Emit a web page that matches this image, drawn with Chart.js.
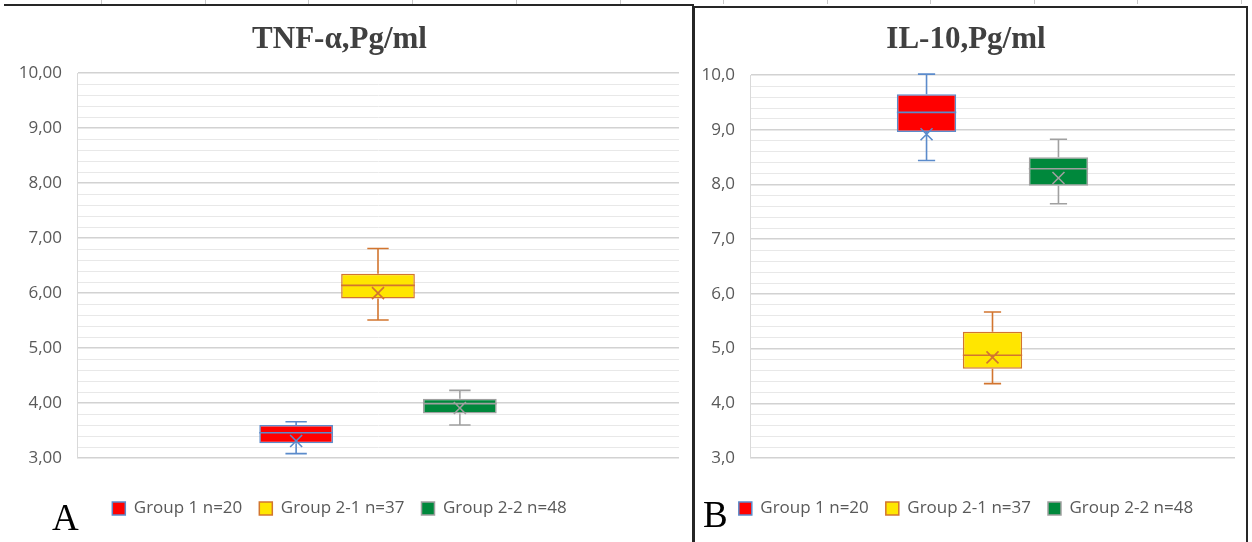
<!DOCTYPE html>
<html>
<head>
<meta charset="utf-8">
<script src="https://cdn.jsdelivr.net/npm/chart.js@4.4.1/dist/chart.umd.min.js"></script>
<style>
  html, body { margin: 0; padding: 0; background: #fff; }
  body { width: 1252px; height: 542px; position: relative; overflow: hidden; }
  .frame { position: absolute; box-sizing: border-box; border: 0 solid #262626; }
  #frameA { left: 4px; top: 4px; width: 690px; height: 560px; border-top-width: 2px; border-right-width: 2px; }
  #frameB { left: 693px; top: 6px; width: 555px; height: 560px; border-top-width: 2px; border-left-width: 2px; border-right-width: 2px; }
  .cell { position: absolute; top: 0; width: 1px; height: 4px; background: #c8c8c8; }
  canvas { position: absolute; top: 0; }
  #chartA { left: 0; }
  #chartB { left: 697px; }
  .letter { position: absolute; font-family: 'Liberation Serif', serif; font-size: 37px; line-height: 1; color: #000; }
</style>
</head>
<body>
<div class="frame" id="frameA"></div>
<div class="frame" id="frameB"></div>
<div class="cell" style="left:101px"></div>
<div class="cell" style="left:205px"></div>
<div class="cell" style="left:308px"></div>
<div class="cell" style="left:412px"></div>
<div class="cell" style="left:516px"></div>
<div class="cell" style="left:620px"></div>
<div class="cell" style="left:723px"></div>
<div class="cell" style="left:827px"></div>
<div class="cell" style="left:930px"></div>
<div class="cell" style="left:1034px"></div>
<div class="cell" style="left:1137px"></div>
<div class="cell" style="left:1241px"></div>

<canvas id="chartA" width="692" height="542"></canvas>
<canvas id="chartB" width="548" height="542"></canvas>

<div class="letter" style="left:52px; top:499px;">A</div>
<div class="letter" style="left:703px; top:496px;">B</div>

<script>
// groups (legend)
const groups = ['Group 1 n=20', 'Group 2-1 n=37', 'Group 2-2 n=48'];
const fills = ['#FF0000', '#FFE600', '#00883C'];
const edges = ['#5B8BCB', '#D2752F', '#A0A0A0'];

// TNF-α, pg/ml
const tnfMin = [3.08, 5.51, 3.60];
const tnfQ1 = [3.27, 5.90, 3.81];
const tnfMedian = [3.46, 6.14, 3.99];
const tnfQ3 = [3.60, 6.35, 4.08];
const tnfMax = [3.66, 6.81, 4.23];
const tnfMean = [3.31, 6.00, 3.91];
const tnfTicks = [3, 4, 5, 6, 7, 8, 9, 10];
const tnfTickLabels = ['3,00', '4,00', '5,00', '6,00', '7,00', '8,00', '9,00', '10,00'];

// IL-10, pg/ml
const ilMin = [8.44, 4.36, 7.65];
const ilQ1 = [8.96, 4.63, 7.98];
const ilMedian = [9.32, 4.88, 8.29];
const ilQ3 = [9.65, 5.31, 8.50];
const ilMax = [10.02, 5.67, 8.83];
const ilMean = [8.92, 4.84, 8.12];
const ilTicks = [3, 4, 5, 6, 7, 8, 9, 10];
const ilTickLabels = ['3,0', '4,0', '5,0', '6,0', '7,0', '8,0', '9,0', '10,0'];

// whiskers, median and mean cross on top of the floating bars
const boxExtras = {
    id: 'boxExtras',
    afterDatasetsDraw(chart) {
        const ctx = chart.ctx;
        const y = chart.scales.y;
        chart.data.datasets.forEach((ds, i) => {
            const bar = chart.getDatasetMeta(i).data[0];
            const { x, width } = bar.getProps(['x', 'width'], true);
            const s = ds.stat;
            const cap = width * 0.145;
            const yQ1 = y.getPixelForValue(ds.data[0][0]);
            const yQ3 = y.getPixelForValue(ds.data[0][1]);
            const yMin = y.getPixelForValue(s.min);
            const yMax = y.getPixelForValue(s.max);
            const yMed = y.getPixelForValue(s.median);
            const yMean = y.getPixelForValue(s.mean);
            const r = 6;
            ctx.save();
            ctx.strokeStyle = ds.borderColor;
            ctx.lineWidth = 1.6;
            ctx.beginPath();
            ctx.moveTo(x, yQ3); ctx.lineTo(x, yMax);
            ctx.moveTo(x - cap, yMax); ctx.lineTo(x + cap, yMax);
            ctx.moveTo(x, yQ1); ctx.lineTo(x, yMin);
            ctx.moveTo(x - cap, yMin); ctx.lineTo(x + cap, yMin);
            ctx.moveTo(x - width / 2, yMed); ctx.lineTo(x + width / 2, yMed);
            ctx.moveTo(x - r, yMean - r); ctx.lineTo(x + r, yMean + r);
            ctx.moveTo(x + r, yMean - r); ctx.lineTo(x - r, yMean + r);
            ctx.stroke();
            ctx.restore();
        });
    }
};

function tickIndex(values, v) {
    return values.findIndex(t => Math.abs(t - v) < 1e-6);
}

function createChart(id, cfg) {
    return new Chart(document.getElementById(id), {
        type: 'bar',
        data: {
            labels: [''],
            datasets: groups.map((g, i) => ({
                label: g,
                data: [[cfg.q1[i], cfg.q3[i]]],
                backgroundColor: fills[i],
                borderColor: edges[i],
                borderWidth: 1.5,
                borderSkipped: false,
                stat: { min: cfg.min[i], median: cfg.median[i], max: cfg.max[i], mean: cfg.mean[i] }
            }))
        },
        options: {
            responsive: false,
            animation: false,
            layout: { padding: { left: 0, right: cfg.padRight, top: 0, bottom: 15 } },
            datasets: { bar: { categoryPercentage: 0.408, barPercentage: 0.9 } },
            scales: {
                x: {
                    grid: { display: false },
                    border: { display: false },
                    ticks: { display: false },
                    afterFit: s => { s.height = 25; }
                },
                y: {
                    min: 3,
                    max: 10,
                    ticks: {
                        stepSize: 0.2,
                        autoSkip: false,
                        padding: 15,
                        color: '#595959',
                        font: { family: 'Open Sans', size: 17 },
                        callback: v => {
                            const k = tickIndex(cfg.ticks, v);
                            return k >= 0 ? cfg.tickLabels[k] : '';
                        }
                    },
                    grid: {
                        drawTicks: false,
                        color: c => tickIndex(cfg.ticks, c.tick.value) >= 0 ? '#D2D2D2' : '#E8E8E8',
                        lineWidth: c => tickIndex(cfg.ticks, c.tick.value) >= 0 ? 1.6 : 1
                    },
                    border: { display: true, color: '#D9D9D9', width: 1 },
                    afterFit: s => { s.width = cfg.axisWidth; }
                }
            },
            plugins: {
                title: {
                    display: true,
                    text: cfg.title,
                    color: '#404040',
                    font: { family: 'Liberation Serif', size: 31, weight: 'bold' },
                    padding: { top: 21, bottom: cfg.titleBottom }
                },
                legend: {
                    position: 'bottom',
                    labels: {
                        boxWidth: 13,
                        boxHeight: 13,
                        padding: 17,
                        color: '#595959',
                        font: { family: 'Open Sans', size: 17 }
                    }
                },
                tooltip: { enabled: false }
            }
        },
        plugins: [boxExtras]
    });
}

createChart('chartA', {
    title: 'TNF-α,Pg/ml',
    min: tnfMin, q1: tnfQ1, median: tnfMedian, q3: tnfQ3, max: tnfMax, mean: tnfMean,
    ticks: tnfTicks, tickLabels: tnfTickLabels,
    axisWidth: 77, padRight: 13, titleBottom: 15
});

createChart('chartB', {
    title: 'IL-10,Pg/ml',
    min: ilMin, q1: ilQ1, median: ilMedian, q3: ilQ3, max: ilMax, mean: ilMean,
    ticks: ilTicks, tickLabels: ilTickLabels,
    axisWidth: 53, padRight: 10, titleBottom: 17
});
</script>
</body>
</html>
